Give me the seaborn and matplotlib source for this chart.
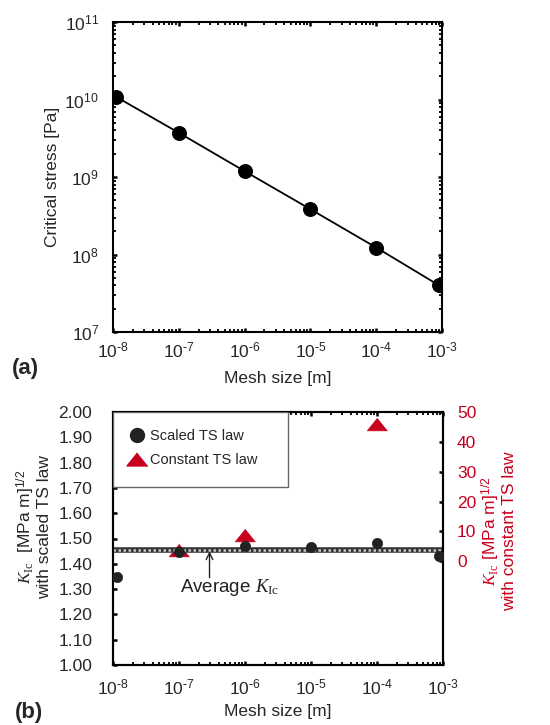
import numpy as np
import pandas as pd
import matplotlib
matplotlib.use("Agg")
import matplotlib.pyplot as plt
import seaborn as sns
from matplotlib.ticker import LogLocator, FixedLocator, FormatStrFormatter, NullFormatter, FuncFormatter
from matplotlib.lines import Line2D
from matplotlib.patches import Rectangle

# ---------------- data ----------------
mesh_a = [1.1e-8, 1e-7, 1e-6, 1e-5, 1e-4, 9e-4]
critical_stress = [1.09e10, 3.72e9, 1.19e9, 3.84e8, 1.23e8, 4.0e7]

mesh_b = [1.15e-8, 1e-7, 1e-6, 1e-5, 1e-4, 8.8e-4]
kic_scaled = [1.347, 1.447, 1.471, 1.466, 1.483, 1.430]

mesh_const = [1e-7, 1e-6, 1e-4]
kic_constant = [3.8, 8.65, 46.1]

avg_kic = 1.456
left_ticks = [1.00, 1.10, 1.20, 1.30, 1.40, 1.50, 1.60, 1.70, 1.80, 1.90, 2.00]
right_ticks = [0, 10, 20, 30, 40, 50]

RED = "#C8001E"

sns.set_theme(style="ticks")
plt.rcParams["font.family"] = ["Liberation Sans", "DejaVu Sans"]
plt.rcParams["mathtext.fontset"] = "custom"
plt.rcParams["mathtext.rm"] = "Liberation Serif"
plt.rcParams["mathtext.it"] = "Liberation Serif:italic"
plt.rcParams["mathtext.bf"] = "Liberation Serif:bold"
plt.rcParams["mathtext.sf"] = "Liberation Sans"

def pow10(v, pos=None):
    e = int(round(np.log10(v)))
    if e < 0:
        return r"$\mathdefault{10^{\text{-}%d}}$" % (-e)
    return r"$\mathdefault{10^{%d}}$" % e

fig = plt.figure(figsize=(5.5, 7.25), dpi=100)

W, H = 550.0, 725.0
def box(l, t, r, b):
    return [l / W, 1 - b / H, (r - l) / W, (b - t) / H]

FS = 12.5
MAJ_L, MIN_L = 3.2, 2.0

# ---------------- panel (a) ----------------
ax1 = fig.add_axes(box(113, 22, 442, 332))
df_a = pd.DataFrame({"mesh": mesh_a, "stress": critical_stress})
sns.lineplot(data=df_a, x="mesh", y="stress", ax=ax1, color="black", lw=1.3,
             marker="o", markersize=10, markeredgecolor="black", zorder=3)
ax1.set_xscale("log")
ax1.set_yscale("log")
ax1.set_xlim(1e-8, 1e-3)
ax1.set_ylim(1e7, 1e11)
ax1.xaxis.set_major_locator(LogLocator(base=10, numticks=10))
ax1.yaxis.set_major_locator(LogLocator(base=10, numticks=10))
ax1.xaxis.set_major_formatter(FuncFormatter(pow10))
ax1.yaxis.set_major_formatter(FuncFormatter(pow10))
ax1.xaxis.set_minor_locator(LogLocator(base=10, subs=np.arange(2, 10), numticks=20))
ax1.yaxis.set_minor_locator(LogLocator(base=10, subs=np.arange(2, 10), numticks=20))
ax1.xaxis.set_minor_formatter(NullFormatter())
ax1.yaxis.set_minor_formatter(NullFormatter())
ax1.tick_params(which="both", direction="in", top=True, right=True, color="black")
ax1.tick_params(which="major", length=MAJ_L, width=1.8, labelsize=FS)
ax1.tick_params(axis="x", which="major", pad=6)
ax1.tick_params(axis="y", which="major", pad=10)
ax1.tick_params(which="minor", length=MIN_L, width=1.3)
for s in ax1.spines.values():
    s.set_linewidth(1.5)
    s.set_color("black")
ax1.set_xlabel("Mesh size [m]", fontsize=FS)
ax1.set_ylabel("Critical stress [Pa]", fontsize=FS)
ax1.xaxis.set_label_coords(0.5, -0.125)
ax1.yaxis.set_label_coords(-0.16, 0.5)
fig.text(12 / W, 1 - 379 / H, "(a)", fontsize=16, fontweight="bold", ha="left", va="bottom")

# ---------------- panel (b) ----------------
ax2 = fig.add_axes(box(113, 412, 443, 665))
ax3 = ax2.twinx()
ax2.set_zorder(ax3.get_zorder() + 1)
ax2.patch.set_visible(False)

df_c = pd.DataFrame({"mesh": mesh_const, "kic": kic_constant})
tri = [(0, 0.62), (-1, -0.62), (1, -0.62)]
sns.scatterplot(data=df_c, x="mesh", y="kic", ax=ax3, marker=tri, s=215,
                color=RED, edgecolor=RED, linewidth=0.5, zorder=3, legend=False)

df_b = pd.DataFrame({"mesh": mesh_b, "kic": kic_scaled})
ax2.axhline(avg_kic, color="#333333", lw=4.0, zorder=2)
ax2.axhline(avg_kic, color="#c8c8c8", lw=1.8, ls=(0, (1, 1)), zorder=2)
sns.scatterplot(data=df_b, x="mesh", y="kic", ax=ax2, marker="o", s=55,
                color="#222222", edgecolor="#222222", linewidth=0.5, zorder=4, legend=False)

for ax in (ax2, ax3):
    ax.set_xscale("log")
    ax.set_xlim(1e-8, 1e-3)
ax2.set_ylim(1.0, 2.0)
ax3.set_ylim(-34.8, 50)
ax2.yaxis.set_major_locator(FixedLocator(left_ticks))
ax2.yaxis.set_major_formatter(FormatStrFormatter("%.2f"))
ax3.yaxis.set_major_locator(FixedLocator(right_ticks))
ax2.xaxis.set_major_locator(LogLocator(base=10, numticks=10))
ax2.xaxis.set_major_formatter(FuncFormatter(pow10))
ax2.xaxis.set_minor_locator(LogLocator(base=10, subs=np.arange(2, 10), numticks=20))
ax2.xaxis.set_minor_formatter(NullFormatter())
ax2.tick_params(axis="x", which="both", direction="in", top=True, color="black")
ax2.tick_params(axis="y", which="both", direction="in", left=True, right=False, color="black")
ax2.tick_params(which="major", length=MAJ_L, width=1.8, labelsize=FS)
ax2.tick_params(axis="x", which="major", pad=9)
ax2.tick_params(axis="y", which="major", pad=15)
ax2.tick_params(which="minor", length=MIN_L, width=1.3)
ax3.tick_params(axis="y", direction="in", length=MAJ_L, width=1.8, labelsize=FS,
                labelcolor=RED, color="black", pad=10)
ax3.tick_params(axis="x", which="both", bottom=False, top=False, labelbottom=False)
for ax in (ax2, ax3):
    for s in ax.spines.values():
        s.set_linewidth(1.5)
        s.set_color("black")

ax2.set_xlabel("Mesh size [m]", fontsize=FS)
ax2.xaxis.set_label_coords(0.5, -0.155)
ax2.set_ylabel(r"$K_{\mathrm{Ic}}$  [MPa m]$^{\mathdefault{1/2}}$" + "\nwith scaled TS law",
               fontsize=FS, linespacing=1.0)
ax2.yaxis.set_label_coords(-0.185, 0.545)
ax3.set_ylabel(r"$K_{\mathrm{Ic}}$ [MPa m]$^{\mathdefault{1/2}}$" + "\nwith constant TS law",
               fontsize=FS, color=RED, linespacing=1.0, rotation=90, va="top")
ax3.yaxis.set_label_coords(1.112, 0.53)

# legend
ax2.add_patch(Rectangle((0, 0.704), 0.53, 0.296, transform=ax2.transAxes,
                        facecolor="white", edgecolor="#666666", lw=1.0, zorder=5))
handles = [Line2D([], [], ls="none", marker="o", ms=10, color="#222222"),
           Line2D([], [], ls="none", marker=tri, ms=15, color=RED)]
leg = ax2.legend(handles, ["Scaled TS law", "Constant TS law"], loc="upper left",
                 bbox_to_anchor=(0.025, 0.955), frameon=False, fontsize=10.5,
                 handlelength=1.3, handletextpad=0.3, labelspacing=0.65, borderaxespad=0)
leg.set_zorder(6)

ax2.annotate("", xy=(2.9e-7, 1.449), xytext=(2.9e-7, 1.345), textcoords="data",
             arrowprops=dict(arrowstyle="->", color="#222222", lw=1.0,
                             shrinkA=0, shrinkB=0))
ax2.text(1.03e-7, 1.305, r"Average $K_{\mathrm{Ic}}$", fontsize=13.5,
         ha="left", va="center", color="#222222")

fig.text(15 / W, 1 - 723 / H, "(b)", fontsize=16, fontweight="bold", ha="left", va="bottom")

fig.savefig("out.png", dpi=100)
